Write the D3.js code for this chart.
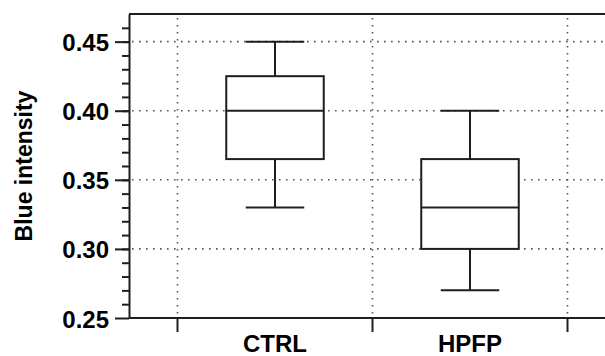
<!DOCTYPE html>
<html>
<head>
<meta charset="utf-8">
<script src="https://cdn.jsdelivr.net/npm/d3@7"></script>
<style>
  body { margin: 0; background: #fff; }
  svg { display: block; font-family: "Liberation Sans", Arial, Helvetica, sans-serif; }
</style>
</head>
<body>
<svg id="chart" width="605" height="356"></svg>
<script>
// box plot values
const groups = ["CTRL", "HPFP"];
const whiskerLow = [0.33, 0.27];
const q1 = [0.365, 0.30];
const median = [0.40, 0.33];
const q3 = [0.425, 0.365];
const whiskerHigh = [0.45, 0.40];
const yMajor = [0.25, 0.30, 0.35, 0.40, 0.45];
const yMinor = d3.range(26, 47).map(d => d / 100);

const svg = d3.select("#chart");
const ink = "#1e1e1e";
const gridColor = "#555";

const plot = {left: 129, right: 605, top: 14, bottom: 318};

const y = d3.scaleLinear().domain([0.25, 0.47]).range([plot.bottom, plot.top]);
const x = d3.scaleBand().domain(groups).range([177.5, 567.5]).padding(0);

const boxes = groups.map((g, i) => ({
  name: g, lo: whiskerLow[i], q1: q1[i], med: median[i], q3: q3[i], hi: whiskerHigh[i]
}));

// category boundaries (where the x ticks and vertical grid sit)
const bounds = groups.map(g => x(g)).concat([x.range()[1]]);

// dotted grid
const grid = svg.append("g").attr("stroke", gridColor).attr("stroke-width", 1.6)
  .attr("stroke-dasharray", "1.6,5.4").attr("fill", "none");
grid.selectAll("line.h").data(yMajor.slice(1)).enter().append("line")
  .attr("class", "h")
  .attr("x1", plot.left + 3).attr("x2", plot.right)
  .attr("y1", d => y(d)).attr("y2", d => y(d));
grid.selectAll("line.v").data(bounds).enter().append("line")
  .attr("class", "v")
  .attr("x1", d => d).attr("x2", d => d)
  .attr("y1", plot.top + 4).attr("y2", plot.bottom - 2);

// top frame line
svg.append("line")
  .attr("x1", plot.left).attr("x2", plot.right)
  .attr("y1", plot.top).attr("y2", plot.top)
  .attr("stroke", ink).attr("stroke-width", 2);

// y axis: minor then major
const yMinorAxis = svg.append("g").attr("transform", "translate(" + plot.left + ",0)")
  .call(d3.axisLeft(y).tickValues(yMinor).tickSize(7).tickSizeOuter(0).tickFormat(""));
yMinorAxis.select(".domain").remove();

const yAxis = svg.append("g").attr("transform", "translate(" + plot.left + ",0)")
  .call(d3.axisLeft(y).tickValues(yMajor).tickSize(14).tickSizeOuter(0).tickFormat(d3.format(".2f")));
yAxis.selectAll("line").attr("stroke", ink).attr("stroke-width", 2);
yMinorAxis.selectAll("line").attr("stroke", ink).attr("stroke-width", 2);
yAxis.select(".domain").attr("stroke", ink).attr("stroke-width", 2);
yAxis.selectAll("text")
  .attr("x", -20).attr("dy", null).attr("y", 9)
  .attr("font-size", 24).attr("font-weight", "bold").attr("fill", "#000");

// bottom axis line
svg.append("line")
  .attr("x1", plot.left).attr("x2", plot.right)
  .attr("y1", plot.bottom).attr("y2", plot.bottom)
  .attr("stroke", ink).attr("stroke-width", 2);

svg.selectAll("line.xtick").data(bounds).enter().append("line")
  .attr("class", "xtick")
  .attr("x1", d => d).attr("x2", d => d)
  .attr("y1", plot.bottom).attr("y2", plot.bottom + 14)
  .attr("stroke", ink).attr("stroke-width", 2);

svg.selectAll("text.xlabel").data(groups).enter().append("text")
  .attr("class", "xlabel")
  .attr("x", d => x(d) + x.bandwidth() / 2)
  .attr("y", 352)
  .attr("text-anchor", "middle")
  .attr("font-size", 24).attr("font-weight", "bold")
  .text(d => d);

// y title
svg.append("text")
  .attr("transform", "translate(32," + ((plot.top + plot.bottom) / 2) + ") rotate(-90)")
  .attr("text-anchor", "middle")
  .attr("font-size", 23).attr("font-weight", "bold")
  .text("Blue intensity");

// boxes
const boxW = x.bandwidth() * 0.5;
const capW = x.bandwidth() * 0.3;
const bg = svg.selectAll("g.box").data(boxes).enter().append("g")
  .attr("class", "box")
  .attr("transform", d => "translate(" + (x(d.name) + x.bandwidth() / 2) + ",0)")
  .attr("stroke", ink).attr("stroke-width", 2).attr("fill", "none");

bg.append("line").attr("x1", 0).attr("x2", 0)
  .attr("y1", d => y(d.hi)).attr("y2", d => y(d.q3));
bg.append("line").attr("x1", 0).attr("x2", 0)
  .attr("y1", d => y(d.q1)).attr("y2", d => y(d.lo));
bg.append("line").attr("x1", -capW / 2).attr("x2", capW / 2)
  .attr("y1", d => y(d.hi)).attr("y2", d => y(d.hi));
bg.append("line").attr("x1", -capW / 2).attr("x2", capW / 2)
  .attr("y1", d => y(d.lo)).attr("y2", d => y(d.lo));
bg.append("rect")
  .attr("x", -boxW / 2).attr("width", boxW)
  .attr("y", d => y(d.q3)).attr("height", d => y(d.q1) - y(d.q3))
  .attr("fill", "#fff");
bg.append("line").attr("x1", -boxW / 2).attr("x2", boxW / 2)
  .attr("y1", d => y(d.med)).attr("y2", d => y(d.med));
</script>
</body>
</html>
